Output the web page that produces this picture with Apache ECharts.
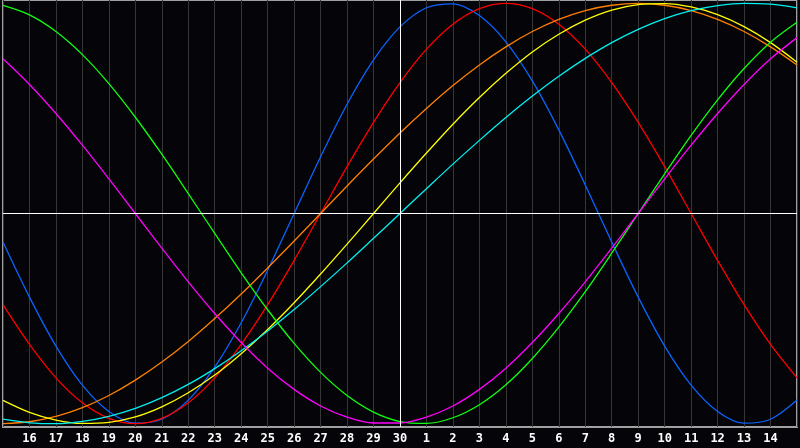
<!DOCTYPE html>
<html>
<head>
<meta charset="utf-8">
<script src="https://cdn.jsdelivr.net/npm/echarts@6/dist/echarts.min.js"></script>
<style>
html,body{margin:0;padding:0;background:#050408;}
#chart{width:800px;height:448px;}
</style>
</head>
<body>
<div id="chart"></div>
<script>
// Day labels along the x axis (positions 0..30)
var dayLabels = ["15","16","17","18","19","20","21","22","23","24","25","26","27","28","29","30",
                 "1","2","3","4","5","6","7","8","9","10","11","12","13","14","15"];

// Cycle values, one per day position
var blueVals = [-0.136,-0.398,-0.631,-0.817,-0.942,-0.998,-0.979,-0.888,-0.731,-0.520,-0.270,0,
                0.270,0.520,0.731,0.888,0.979,0.998,0.942,0.817,0.631,0.398,0.136,
                -0.136,-0.398,-0.631,-0.817,-0.942,-0.998,-0.979,-0.888];
var redVals = [-0.434,-0.623,-0.782,-0.901,-0.975,-1,-0.975,-0.901,-0.782,-0.623,-0.434,-0.223,0,
               0.223,0.434,0.623,0.782,0.901,0.975,1,0.975,0.901,0.782,0.623,0.434,0.223,0,
               -0.223,-0.434,-0.623,-0.782];
var orangeVals = [-1,-0.991,-0.966,-0.924,-0.866,-0.793,-0.707,-0.609,-0.5,-0.383,-0.259,-0.131,0,
                  0.131,0.259,0.383,0.5,0.609,0.707,0.793,0.866,0.924,0.966,0.991,1,
                  0.991,0.966,0.924,0.866,0.793,0.707];
var yellowVals = [-0.889,-0.946,-0.983,-0.999,-0.994,-0.968,-0.920,-0.853,-0.769,-0.667,-0.552,-0.425,-0.288,-0.146,0,
                  0.146,0.288,0.425,0.552,0.667,0.769,0.853,0.920,0.968,0.994,0.999,0.983,0.946,0.889,0.813,0.720];
var cyanVals = [-0.979,-0.996,-1.000,-0.989,-0.965,-0.927,-0.876,-0.813,-0.738,-0.653,-0.559,-0.457,-0.348,-0.235,-0.118,0,
                0.118,0.235,0.348,0.457,0.559,0.653,0.738,0.813,0.876,0.927,0.965,0.989,1.000,0.996,0.979];
var greenVals = [0.990,0.945,0.866,0.756,0.618,0.458,0.282,0.095,-0.095,-0.282,-0.458,-0.618,-0.756,-0.866,-0.945,-0.990,
                 -0.999,-0.972,-0.910,-0.815,-0.690,-0.541,-0.372,-0.189,0,0.189,0.372,0.541,0.690,0.815,0.910];
var magentaVals = [0.736,0.614,0.476,0.325,0.165,0,-0.165,-0.325,-0.476,-0.614,-0.736,-0.837,-0.916,-0.969,-0.997,
                   -0.997,-0.969,-0.916,-0.837,-0.736,-0.614,-0.476,-0.325,-0.165,0,0.165,0.325,0.476,0.614,0.736,0.837];

var seriesDefs = [
  {name:'blue', vals: blueVals, color:'#0a64ff'},
  {name:'red', vals: redVals, color:'#ff0000'},
  {name:'orange', vals: orangeVals, color:'#ff8000'},
  {name:'yellow', vals: yellowVals, color:'#ffff00'},
  {name:'cyan', vals: cyanVals, color:'#00f0f0'},
  {name:'green', vals: greenVals, color:'#10ff10'},
  {name:'magenta', vals: magentaVals, color:'#ff00ff'}
];

var chart = echarts.init(document.getElementById('chart'), null, {renderer:'canvas'});

var series = [{
  type:'line', data:[], silent:true,
  markLine:{
    silent:true, symbol:'none', animation:false,
    label:{show:false},
    lineStyle:{color:'#ffffff', width:1, type:'solid'},
    data:[{xAxis:15},{yAxis:0}]
  }
}];
seriesDefs.forEach(function(s){
  series.push({
    name:s.name, type:'line', smooth:0.33, showSymbol:false, silent:true,
    lineStyle:{color:s.color, width:1.3},
    itemStyle:{color:s.color},
    data:s.vals.map(function(v,i){return [i,v];})
  });
});

chart.setOption({
  animation:false,
  backgroundColor:'#050408',
  grid:{left:0,right:0,top:0,bottom:21,show:true,borderColor:'#a0a0a0',borderWidth:2,backgroundColor:'transparent'},
  xAxis:{
    type:'value', min:0, max:30, interval:1,
    axisLine:{show:false}, axisTick:{show:false},
    splitLine:{show:true, lineStyle:{color:'#363636', width:1}},
    axisLabel:{
      color:'#ffffff', fontWeight:'bold', fontFamily:'DejaVu Sans Mono', fontSize:12, margin:6,
      formatter:function(v){ if(v<=0||v>=30) return ''; return dayLabels[v]; }
    }
  },
  yAxis:{
    type:'value', min:-1.016, max:1.016,
    axisLine:{show:false}, axisTick:{show:false}, axisLabel:{show:false}, splitLine:{show:false}
  },
  series:series
});
</script>
</body>
</html>
